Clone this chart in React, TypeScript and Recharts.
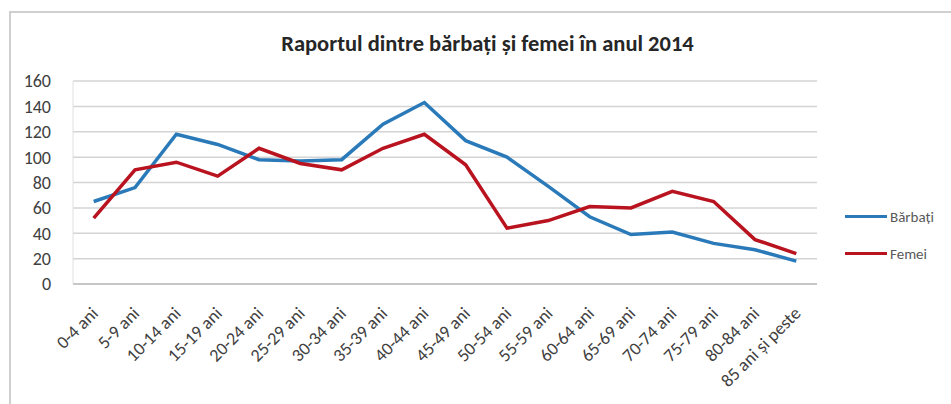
import { LineChart, Line, XAxis, YAxis, CartesianGrid, Legend } from "recharts";

const categories = [
  "0-4 ani", "5-9 ani", "10-14 ani", "15-19 ani", "20-24 ani", "25-29 ani",
  "30-34 ani", "35-39 ani", "40-44 ani", "45-49 ani", "50-54 ani", "55-59 ani",
  "60-64 ani", "65-69 ani", "70-74 ani", "75-79 ani", "80-84 ani", "85 ani și peste",
];
const barbati = [65, 76, 118, 110, 98, 97, 98, 126, 143, 113, 100, 77, 53, 39, 41, 32, 27, 18];
const femei = [52, 90, 96, 85, 107, 95, 90, 107, 118, 94, 44, 50, 61, 60, 73, 65, 35, 24];
const yTicks = [0, 20, 40, 60, 80, 100, 120, 140, 160];

const data = categories.map((c, i) => ({ name: c, Bărbați: barbati[i], Femei: femei[i] }));

const font = "Carlito, 'Liberation Sans Narrow', 'Open Sans', sans-serif";
const BLUE = "#2a7ab9";
const RED = "#b8131f";

function XTick(props: any) {
  const { x, payload } = props;
  return (
    <g transform={`translate(${x + 1},${310})`}>
      <text
        transform="rotate(-45)"
        textAnchor="end"
        dy="0.35em"
        fontSize={18}
        fill="#404040"
        fontFamily={font}
      >
        {payload.value}
      </text>
    </g>
  );
}

function LegendBox() {
  const rows = [
    { label: "Bărbați", color: BLUE },
    { label: "Femei", color: RED },
  ];
  return (
    <div style={{ fontFamily: font, fontSize: 15, color: "#595959" }}>
      {rows.map((r) => (
        <div key={r.label} style={{ display: "flex", alignItems: "center", height: 37 }}>
          <div style={{ width: 42, height: 3, background: r.color, marginRight: 3 }} />
          <span>{r.label}</span>
        </div>
      ))}
    </div>
  );
}

export default function App() {
  return (
    <div style={{ position: "absolute", left: 0, top: 0, width: 951, height: 404, background: "#fff", overflow: "hidden" }}>
      <div
        style={{
          position: "absolute",
          left: 9,
          top: 11,
          width: 1000,
          height: 500,
          borderLeft: "2px solid #cfcfcf",
          borderTop: "2px solid #cfcfcf",
        }}
      />
      <div
        style={{
          position: "absolute",
          left: 0,
          width: 975,
          top: 30,
          textAlign: "center",
          fontFamily: font,
          fontWeight: 700,
          fontSize: 22.5,
          color: "#262626",
        }}
      >
        Raportul dintre bărbați și femei în anul 2014
      </div>
      <LineChart
        width={951}
        height={404}
        data={data}
        margin={{ top: 81, right: 134, bottom: 0, left: 0 }}
      >
        <CartesianGrid vertical={false} stroke="#d4d4d4" strokeWidth={1.5} />
        <XAxis
          dataKey="name"
          interval={0}
          padding={{ left: 20.7, right: 20.7 }}
          tick={<XTick />}
          tickLine={false}
          axisLine={{ stroke: "#bfbfbf", strokeWidth: 1.5 }}
          height={120}
        />
        <YAxis
          domain={[0, 160]}
          ticks={yTicks}
          interval={0}
          width={73}
          tickSize={0}
          tickMargin={22}
          tick={{ fontSize: 18, fill: "#404040", fontFamily: font }}
          axisLine={{ stroke: "#e0e0e0", strokeWidth: 1 }}
        />
        <Legend
          verticalAlign="middle"
          layout="horizontal"
          content={<LegendBox />}
          wrapperStyle={{ position: "absolute", left: 845, top: 198, width: 100 }}
        />
        <Line dataKey="Bărbați" stroke={BLUE} strokeWidth={3.5} dot={false} isAnimationActive={false} />
        <Line dataKey="Femei" stroke={RED} strokeWidth={3.5} dot={false} isAnimationActive={false} />
      </LineChart>
    </div>
  );
}
